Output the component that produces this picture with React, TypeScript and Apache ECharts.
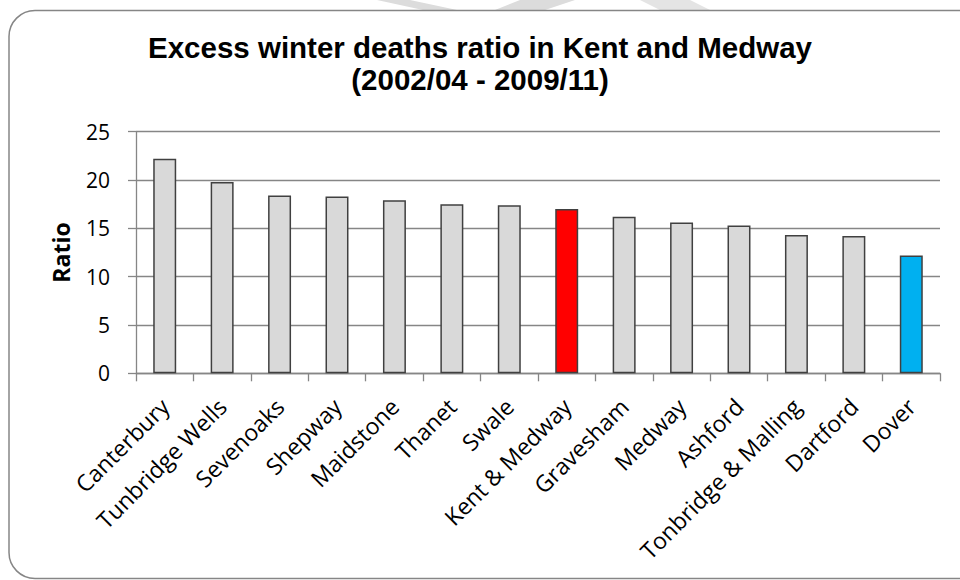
import React, { useEffect, useRef } from "react";
import * as echarts from "echarts";

const categories = [
  "Canterbury",
  "Tunbridge Wells",
  "Sevenoaks",
  "Shepway",
  "Maidstone",
  "Thanet",
  "Swale",
  "Kent & Medway",
  "Gravesham",
  "Medway",
  "Ashford",
  "Tonbridge & Malling",
  "Dartford",
  "Dover",
];
const ratios = [22.2, 19.8, 18.4, 18.3, 17.9, 17.5, 17.4, 17.0, 16.2, 15.6, 15.3, 14.3, 14.2, 12.2];
const highlightRed = ["Kent & Medway"];
const highlightBlue = ["Dover"];
const yTicks = [0, 5, 10, 15, 20, 25];
const titleLines = ["Excess winter deaths ratio in Kent and Medway", "(2002/04 - 2009/11)"];
const yAxisName = "Ratio";

export default function App() {
  const ref = useRef<HTMLDivElement>(null);
  useEffect(() => {
    if (!ref.current) return;
    const chart = echarts.init(ref.current, undefined, { renderer: "svg" });
    const labelFont = "'Open Sans', 'DejaVu Sans', sans-serif";
    const data = categories.map((c, i) => ({
      value: ratios[i],
      itemStyle: {
        color: highlightRed.includes(c) ? "#FF0000" : highlightBlue.includes(c) ? "#00B0F0" : "#D9D9D9",
      },
    }));
    chart.setOption({
      animation: false,
      backgroundColor: "#ffffff",
      title: {
        text: titleLines.join("\n"),
        left: "center",
        top: 26,
        textStyle: {
          fontFamily: "'Liberation Sans', Arial, sans-serif",
          fontWeight: "bold",
          fontSize: 29.5,
          lineHeight: 32,
          color: "#000",
        },
      },
      graphic: [
        {
          type: "polygon",
          silent: true,
          z: -10,
          shape: { points: [[377, 0], [410, 0], [457, 10], [423, 10]] },
          style: { fill: "#dcdcdc" },
        },
        {
          type: "polygon",
          silent: true,
          z: -10,
          shape: { points: [[520, 0], [575, 0], [545, 10], [495, 10]] },
          style: { fill: "#dcdcdc" },
        },
        {
          type: "polygon",
          silent: true,
          z: -10,
          shape: { points: [[640, 0], [690, 0], [710, 10], [660, 10]] },
          style: { fill: "#e4e4e4" },
        },
        {
          type: "rect",
          silent: true,
          z: -5,
          shape: { x: 9, y: 10.5, width: 980, height: 568, r: 26 },
          style: { fill: "#ffffff", stroke: "#868686", lineWidth: 1.5 },
        },
      ],
      grid: {
        left: 136,
        right: 20,
        top: 131.7,
        bottom: 206.7,
        containLabel: false,
      },
      xAxis: {
        type: "category",
        data: categories,
        boundaryGap: true,
        axisLine: { show: true, lineStyle: { color: "#868686", width: 1.3 } },
        axisTick: { show: true, length: 8, inside: false, lineStyle: { color: "#868686", width: 1.3 } },
        axisLabel: {
          interval: 0,
          rotate: 45,
          margin: 29,
          fontFamily: labelFont,
          fontSize: 23,
          color: "#000",
        },
      },
      yAxis: {
        type: "value",
        min: 0,
        max: 25,
        interval: 5,
        name: yAxisName,
        nameLocation: "middle",
        nameGap: 64,
        nameRotate: 90,
        nameTextStyle: {
          fontFamily: labelFont,
          fontWeight: "bold",
          fontSize: 23,
          color: "#000",
        },
        axisLine: { show: true, lineStyle: { color: "#868686", width: 1.3 } },
        axisTick: { show: true, length: 8, inside: false, lineStyle: { color: "#868686", width: 1.3 } },
        splitLine: { show: true, lineStyle: { color: "#868686", width: 1.3 } },
        axisLabel: {
          margin: 26,
          fontFamily: labelFont,
          fontSize: 21,
          color: "#000",
          formatter: (v: number) => (yTicks.includes(v) ? String(v) : ""),
        },
      },
      series: [
        {
          type: "bar",
          data,
          barWidth: "40%",
          itemStyle: { borderColor: "#404040", borderWidth: 1.5 },
        },
      ],
    });
    return () => chart.dispose();
  }, []);
  return (
    <div
      ref={ref}
      style={{ position: "fixed", left: 0, top: 0, width: 960, height: 580 }}
    />
  );
}
